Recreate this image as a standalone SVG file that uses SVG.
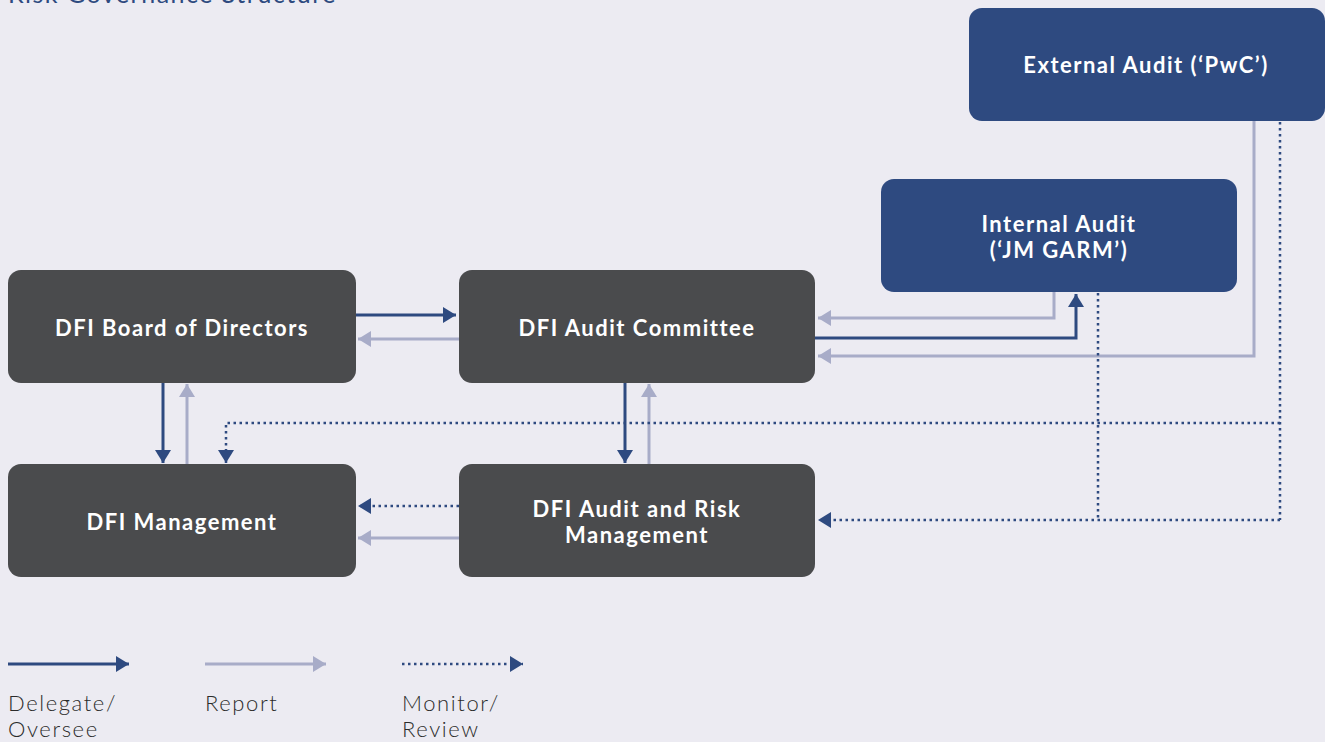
<svg xmlns="http://www.w3.org/2000/svg" width="1325" height="742" viewBox="0 0 1325 742">
  <defs>
    <style>
      .bg { fill: #ecebf2; }
      .box { fill: #4a4b4d; }
      .boxblue { fill: #2e4a80; }
      .lbl { font-family: Lato, "Open Sans", sans-serif; font-weight: 700; font-size: 22px; fill: #ffffff; text-anchor: middle; letter-spacing: 1.5px; }
      .leg { font-family: Lato, "Open Sans", sans-serif; font-weight: 300; font-size: 22px; fill: #2b2b2b; letter-spacing: 1.6px; }
      .title { font-family: Lato, "Open Sans", sans-serif; font-weight: 400; font-size: 25px; fill: #2e4a80; letter-spacing: 1.5px; }
      .del { fill: none; stroke: #2e4a80; stroke-width: 3; }
      .rep { fill: none; stroke: #a8acc8; stroke-width: 3; }
      .mon { fill: none; stroke: #2e4a80; stroke-width: 2.5; stroke-dasharray: 2.5 3.5; }
    </style>
    <marker id="ahDel" markerUnits="userSpaceOnUse" markerWidth="14" markerHeight="16" refX="13" refY="8" orient="auto">
      <path d="M0,0 L13,8 L0,16 Z" fill="#2e4a80"/>
    </marker>
    <marker id="ahRep" markerUnits="userSpaceOnUse" markerWidth="14" markerHeight="16" refX="13" refY="8" orient="auto">
      <path d="M0,0 L13,8 L0,16 Z" fill="#a8acc8"/>
    </marker>
  </defs>

  <rect class="bg" x="0" y="0" width="1325" height="742"/>

  <text class="title" x="8" y="3">Risk Governance Structure</text>

  <!-- connectors -->
  <g id="connectors">
    <!-- Board <-> Audit Committee -->
    <line class="del" x1="356" y1="315" x2="456" y2="315" marker-end="url(#ahDel)"/>
    <line class="rep" x1="459" y1="339" x2="358" y2="339" marker-end="url(#ahRep)"/>
    <!-- Board <-> Management -->
    <line class="del" x1="163" y1="383" x2="163" y2="463" marker-end="url(#ahDel)"/>
    <line class="rep" x1="187" y1="464" x2="187" y2="384" marker-end="url(#ahRep)"/>
    <!-- Audit Committee <-> Audit and Risk Management -->
    <line class="del" x1="625" y1="383" x2="625" y2="463" marker-end="url(#ahDel)"/>
    <line class="rep" x1="649" y1="464" x2="649" y2="384" marker-end="url(#ahRep)"/>
    <!-- Audit and Risk Management -> Management -->
    <line class="mon" x1="459" y1="506" x2="358" y2="506" marker-end="url(#ahDel)"/>
    <line class="rep" x1="459" y1="538" x2="358" y2="538" marker-end="url(#ahRep)"/>
    <!-- Internal Audit <-> Audit Committee -->
    <polyline class="rep" points="1054,292 1054,318 818,318" marker-end="url(#ahRep)"/>
    <polyline class="del" points="815,338 1076,338 1076,294" marker-end="url(#ahDel)"/>
    <!-- External Audit -> Audit Committee -->
    <polyline class="rep" points="1254,121 1254,356 818,356" marker-end="url(#ahRep)"/>
    <!-- monitor / review network -->
    <line class="mon" x1="1098" y1="293" x2="1098" y2="520"/>
    <line class="mon" x1="1280" y1="122" x2="1280" y2="520"/>
    <polyline class="mon" points="1280,423 226,423 226,463" marker-end="url(#ahDel)"/>
    <polyline class="mon" points="1280,520 818,520" marker-end="url(#ahDel)"/>
  </g>

  <g id="board">
    <rect class="box" x="8" y="270" width="348" height="113" rx="13"/>
    <text class="lbl" x="182" y="336">DFI Board of Directors</text>
  </g>
  <g id="audit-committee">
    <rect class="box" x="459" y="270" width="356" height="113" rx="13"/>
    <text class="lbl" x="637" y="336">DFI Audit Committee</text>
  </g>
  <g id="management">
    <rect class="box" x="8" y="464" width="348" height="113" rx="13"/>
    <text class="lbl" x="182" y="530">DFI Management</text>
  </g>
  <g id="audit-risk">
    <rect class="box" x="459" y="464" width="356" height="113" rx="13"/>
    <text class="lbl" x="637" y="517">DFI Audit and Risk</text>
    <text class="lbl" x="637" y="543">Management</text>
  </g>
  <g id="internal-audit">
    <rect class="boxblue" x="881" y="179" width="356" height="113" rx="13"/>
    <text class="lbl" x="1059" y="232">Internal Audit</text>
    <text class="lbl" x="1059" y="258">(‘JM GARM’)</text>
  </g>
  <g id="external-audit">
    <rect class="boxblue" x="969" y="8" width="356" height="113" rx="13"/>
    <text class="lbl" x="1146" y="73">External Audit (‘PwC’)</text>
  </g>

  <g id="legend">
    <line class="del" x1="8" y1="664" x2="129" y2="664" marker-end="url(#ahDel)"/>
    <line class="rep" x1="205" y1="664" x2="326" y2="664" marker-end="url(#ahRep)"/>
    <line class="mon" x1="402" y1="664" x2="523" y2="664" marker-end="url(#ahDel)"/>
    <text class="leg" x="8" y="711">Delegate/</text>
    <text class="leg" x="8" y="737">Oversee</text>
    <text class="leg" x="205" y="711">Report</text>
    <text class="leg" x="402" y="711">Monitor/</text>
    <text class="leg" x="402" y="737">Review</text>
  </g>
</svg>
